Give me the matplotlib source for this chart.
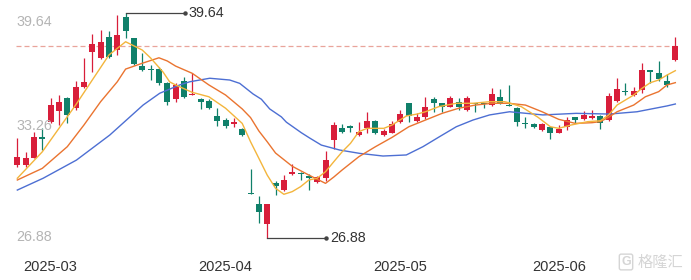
import numpy as np
import pandas as pd
import matplotlib
matplotlib.use('Agg')
from matplotlib import pyplot as plt

plt.rcParams['font.family'] = ['Liberation Sans', 'Noto Sans CJK SC', 'DejaVu Sans']

# trading days (A-share calendar, holidays removed)
holidays = ['2025-04-04', '2025-05-01', '2025-05-02', '2025-05-05', '2025-06-02']
dates = [d for d in pd.bdate_range('2025-02-25', '2025-06-23')
         if d.strftime('%Y-%m-%d') not in holidays]

opens = [31.02, 31.02, 31.43, 32.62, 33.44, 34.08, 34.84, 34.27, 35.46, 37.45,
         37.07, 38.30, 37.54, 39.43, 38.21, 36.65, 36.46, 36.45, 35.65, 34.75,
         35.78, 34.99, 34.75, 34.65, 33.80, 33.57, 33.35, 33.06, 29.41, 28.79,
         27.66, 29.98, 29.60, 30.51, 30.58, 30.41, 30.07, 30.27, 32.44, 33.10,
         33.23, 32.72, 33.10, 33.53, 32.72, 32.85, 33.48, 34.52, 33.53, 33.73,
         34.75, 34.52, 34.33, 34.61, 34.14, 34.52, 34.52, 34.42, 34.86, 34.42,
         34.24, 33.40, 33.35, 33.00, 33.16, 32.85, 33.19, 33.73, 33.61, 33.67,
         33.80, 33.57, 34.67, 35.18, 34.99, 35.27, 36.41, 36.25, 35.80, 36.97]
highs = [32.53, 31.77, 32.91, 33.10, 34.84, 34.99, 34.89, 35.78, 37.07, 38.43,
         38.68, 38.62, 39.53, 39.64, 38.25, 37.35, 36.69, 36.59, 35.74, 35.65,
         36.03, 36.22, 34.80, 34.75, 34.27, 33.67, 33.67, 33.14, 30.79, 29.28,
         28.82, 30.11, 30.45, 31.06, 30.64, 30.49, 30.38, 31.81, 33.44, 33.33,
         33.29, 33.48, 34.04, 33.57, 33.04, 33.53, 34.14, 34.55, 33.99, 34.86,
         34.86, 34.55, 34.93, 34.80, 34.93, 34.54, 34.55, 35.37, 35.31, 35.56,
         34.33, 33.73, 33.42, 33.38, 33.19, 33.29, 33.73, 33.76, 34.10, 34.14,
         33.86, 35.12, 35.94, 35.69, 35.43, 36.82, 36.43, 36.94, 36.18, 38.26]
lows = [30.92, 30.92, 31.40, 31.87, 33.38, 33.29, 33.38, 34.14, 35.40, 36.31,
        37.03, 37.07, 37.26, 38.21, 36.69, 36.35, 35.84, 35.56, 34.42, 34.61,
        34.80, 34.99, 34.18, 34.18, 33.25, 33.14, 33.19, 32.66, 29.36, 27.71,
        26.88, 29.32, 29.56, 30.45, 30.17, 29.60, 29.98, 30.11, 31.93, 32.82,
        32.91, 32.66, 32.85, 32.78, 32.66, 32.82, 33.42, 33.48, 33.48, 33.61,
        34.04, 34.04, 34.29, 34.14, 34.10, 34.04, 34.24, 34.37, 34.48, 34.35,
        33.23, 33.10, 33.14, 32.96, 32.48, 32.83, 33.00, 33.38, 33.57, 33.61,
        33.04, 33.53, 34.61, 34.99, 34.93, 35.12, 35.69, 35.80, 35.46, 36.93]
closes = [31.49, 31.40, 32.62, 32.48, 34.42, 34.58, 33.86, 35.46, 35.74, 37.86,
          38.01, 37.16, 38.39, 38.62, 36.73, 36.41, 36.39, 35.65, 34.61, 35.56,
          34.89, 35.06, 34.61, 34.24, 33.52, 33.25, 33.44, 32.72, 29.36, 28.37,
          28.79, 29.83, 30.17, 30.61, 30.49, 30.27, 30.36, 31.30, 33.29, 32.91,
          33.10, 32.91, 33.53, 32.82, 32.96, 33.35, 33.91, 33.80, 33.76, 34.33,
          34.55, 34.29, 34.80, 34.33, 34.80, 34.46, 34.48, 35.05, 34.55, 34.37,
          33.48, 33.35, 33.16, 33.35, 32.85, 33.04, 33.57, 33.57, 33.86, 33.80,
          33.42, 34.93, 35.31, 35.14, 35.23, 36.41, 36.31, 35.88, 35.56, 37.77]

# moving average lines (x = trading-day index)
ma5_x = [0, 3, 5, 7, 9, 11, 13, 15, 16, 17.5, 18.3, 19, 21, 23, 25, 27, 28, 29, 30, 31,
         32, 33, 34, 35, 36, 37, 38, 39, 40, 41, 42, 44, 45, 46.7, 48, 49, 50.6, 52.7, 54.7, 56.7,
         58.5, 59, 60.5, 62.5, 64, 65, 66.5, 68.5, 70, 71, 72, 74, 75, 76, 77, 78, 79]
ma5 = [30.27, 31.77, 33.10, 34.42, 35.84, 37.26, 38.01, 37.54, 37.09, 36.29,
       35.73, 35.56, 35.14, 34.89, 34.24, 33.38, 32.34, 31.40, 30.45, 29.70,
       29.36, 29.51, 29.79, 30.17, 30.27, 30.64, 31.21, 31.77, 32.25, 32.91,
       33.10, 33.10, 33.29, 33.80, 33.91, 34.04, 34.33, 34.52, 34.52, 34.61,
       34.61, 34.55, 34.33, 33.73, 33.19, 33.10, 33.29, 33.48, 33.53, 33.86,
       34.42, 34.99, 35.37, 35.69, 35.84, 36.12, 36.37]
ma10_x = [0, 3, 6, 8, 10, 12, 13, 15, 17, 18, 19, 21, 23, 25, 27, 28, 29, 30, 31, 33,
          35, 37, 38, 39, 41, 43, 45, 47, 49, 51, 53, 55, 57, 59, 61, 63, 65, 67, 69, 70,
          71, 72, 74, 75.4, 77, 78, 79]
ma10 = [30.17, 30.83, 32.06, 33.29, 34.61, 35.74, 36.46, 36.79, 37.10, 36.92,
        36.63, 36.22, 35.56, 34.99, 34.20, 33.71, 32.95, 32.34, 31.70, 30.95,
        30.45, 29.98, 30.34, 30.74, 31.49, 32.06, 32.59, 33.19, 33.57, 33.95,
        34.24, 34.42, 34.52, 34.52, 34.42, 34.04, 33.61, 33.38, 33.42, 33.48,
        33.73, 34.04, 34.42, 34.89, 35.18, 35.56, 35.69]
ma20_x = [0, 3.1, 7.1, 11.1, 13.1, 15.1, 17.1, 19.5, 20.7, 23.1,
          25.5, 26.7, 28.3, 29.3, 30.3, 31.7, 32.3, 34.1, 35.1, 36.5,
          38.7, 41.1, 43.9, 46.7, 48.7, 50.7, 52.7, 54.7, 56.7, 59.1,
          61.1, 63.1, 67.1, 71.1, 74.4, 78, 79]
ma20 = [29.60, 30.27, 31.30, 32.72, 33.57, 34.42, 35.09, 35.56, 35.74, 35.94,
        35.84, 35.65, 35.05, 34.75, 34.20, 33.75, 33.45, 32.85, 32.55, 32.15,
        31.87, 31.68, 31.53, 31.59, 32.06, 32.63, 33.19, 33.57, 33.86, 34.04,
        33.95, 33.86, 33.95, 33.91, 34.04, 34.37, 34.48]

y_ticks = [39.64, 33.26, 26.88]

up_color = '#d81e3a'
down_color = '#10806a'

o, h, l, c = map(np.array, (opens, highs, lows, closes))
x = np.arange(len(c))
colors = np.where(c >= o, up_color, down_color)

fig = plt.figure(figsize=(6.91, 2.8), dpi=100)
ax = fig.add_axes([0, 0, 1, 1])
ax.set_xlim(-2.08, 80.88)
ax.set_ylim(24.50, 40.377)
ax.axis('off')

# last close reference line
ax.hlines(c[-1], -0.2, 79.6, colors='#e9a49b', linestyles=(0, (4, 2.4)), lw=0.9, zorder=1)

ax.vlines(x, l, h, colors=colors, lw=0.9, zorder=2)
body = np.maximum(np.abs(c - o), 0.05)
ax.bar(x, body, bottom=np.minimum(o, c), width=0.72, color=colors, zorder=2)

ax.plot(ma20_x, ma20, color='#4d6fd3', lw=1.0, zorder=3)
ax.plot(ma10_x, ma10, color='#ea7430', lw=1.0, zorder=3)
ax.plot(ma5_x, ma5, color='#f3b53c', lw=1.0, zorder=3)

# max / min markers
hi = int(np.argmax(h))
lo = int(np.argmin(l))
for i, val in [(hi, h[hi]), (lo, l[lo])]:
    ax.plot([i, i + 7.1], [val, val], color='#444444', lw=0.9, zorder=4)
    ax.plot(i + 7.1, val, 'o', ms=2.2, color='#444444', zorder=4)
    ax.annotate('%.2f' % val, (i + 7.1, val), xytext=(2.5, 0), textcoords='offset points',
                ha='left', va='center', fontsize=10.3, color='#333333')

# price labels
for val, dy in zip(y_ticks, [-6.5, 0, 1]):
    ax.annotate('%.2f' % val, (-0.16, val), xytext=(0, dy), textcoords='offset points',
                ha='left', va='center', fontsize=10.3, color='#b4b4b4')

# month labels
for i in range(1, len(dates)):
    if dates[i].month != dates[i - 1].month:
        ax.text(i, 25.21, dates[i].strftime('%Y-%m'), ha='center', va='center',
                fontsize=10.5, color='#333333')

# watermark
fig.text(638 / 691, 1 - 262 / 280, '格隆汇', family=['Noto Sans CJK SC'], fontsize=11,
         color='#d5d5d5', ha='left', va='center')
fig.text(626 / 691, 1 - 262 / 280, 'G', fontsize=9, fontweight='bold', color='#d5d5d5',
         ha='center', va='center',
         bbox=dict(boxstyle='round,pad=0.15', fc='none', ec='#d5d5d5', lw=1))

fig.savefig('out.png', dpi=100)
